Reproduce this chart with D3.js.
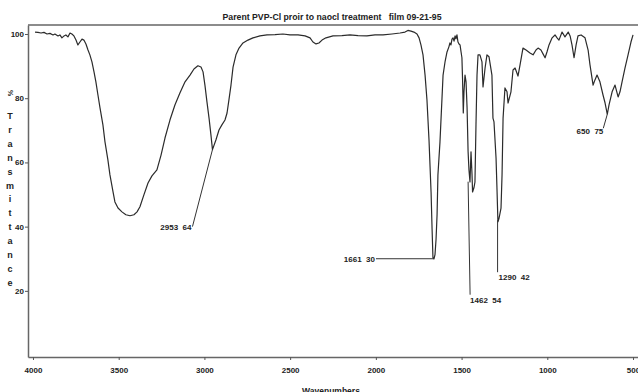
<!DOCTYPE html>
<html>
<head>
<meta charset="utf-8">
<script src="https://cdn.jsdelivr.net/npm/d3@7"></script>
<style>
  html, body { margin: 0; padding: 0; background: #fff; }
  svg { display: block; }
  text { font-family: "Liberation Sans", Arial, sans-serif; font-weight: bold; fill: #222; white-space: pre; }
</style>
</head>
<body>
<div id="chart"></div>
<script>
// IR spectrum: wavenumber (cm-1) and % transmittance
const wavenumbers = [
  3988, 3971, 3953, 3936, 3918, 3901, 3883, 3872, 3854, 3843, 3831, 3819, 3808, 3796, 3784, 3773,
  3761, 3749, 3738, 3726, 3714, 3703, 3691, 3679, 3668, 3656, 3644, 3633, 3621, 3609, 3592, 3580,
  3563, 3551, 3533, 3522, 3504, 3481, 3458, 3434, 3411, 3393, 3376, 3353, 3329, 3306, 3277, 3253,
  3230, 3201, 3172, 3143, 3113, 3084, 3061, 3038, 3020, 3008, 2997, 2985, 2973, 2962, 2953, 2933,
  2915, 2898, 2880, 2868, 2857, 2845, 2833, 2816, 2798, 2775, 2746, 2717, 2676, 2635, 2588, 2542,
  2501, 2454, 2413, 2384, 2367, 2349, 2332, 2314, 2291, 2250, 2198, 2151, 2104, 2052, 2005, 1958,
  1906, 1859, 1830, 1813, 1795, 1778, 1760, 1748, 1737, 1725, 1713, 1702, 1690, 1678, 1672, 1667,
  1661, 1655, 1649, 1643, 1638, 1626, 1608, 1596, 1585, 1574, 1568, 1562, 1556, 1550, 1544, 1538,
  1533, 1527, 1521, 1515, 1509, 1503, 1498, 1494, 1490, 1486, 1480, 1474, 1468, 1462, 1457, 1451,
  1445, 1439, 1436, 1428, 1422, 1416, 1410, 1404, 1393, 1381, 1375, 1363, 1352, 1340, 1323, 1317,
  1311, 1299, 1293, 1288, 1282, 1270, 1264, 1258, 1247, 1235, 1229, 1212, 1200, 1188, 1171, 1159,
  1142, 1124, 1101, 1083, 1066, 1054, 1037, 1025, 1013, 1002, 990, 972, 955, 943, 932, 914,
  897, 878, 867, 856, 844, 832, 821, 803, 780, 762, 751, 733, 722, 710, 693, 675,
  663, 650, 640, 622, 605, 587, 576, 564, 547, 529, 512, 500
];
const transmittance = [
  100.6, 100.5, 100.3, 100.5, 100.0, 100.2, 99.7, 100.0, 99.4, 99.7, 98.8, 99.4, 99.7, 99.1, 100.3, 100.0,
  99.4, 98.1, 96.6, 97.5, 98.4, 98.1, 96.9, 95.0, 93.5, 91.3, 88.2, 85.1, 81.0, 77.0, 71.7, 66.4,
  60.8, 56.1, 50.8, 47.7, 45.8, 44.6, 43.7, 43.4, 43.7, 44.6, 46.2, 49.9, 53.6, 55.8, 57.7, 62.3,
  67.6, 73.2, 77.9, 81.6, 85.1, 87.2, 89.1, 90.1, 89.7, 88.2, 84.1, 78.8, 73.8, 68.6, 64.0, 67.0,
  70.1, 71.7, 73.2, 75.4, 79.5, 84.1, 89.7, 93.5, 95.6, 97.2, 98.1, 98.8, 99.4, 99.7, 99.8, 100.0,
  99.7, 99.7, 99.4, 98.8, 97.5, 96.9, 97.2, 98.1, 98.8, 99.4, 99.5, 99.7, 99.5, 99.4, 99.7, 99.7,
  100.0, 100.3, 100.6, 101.1, 100.9, 100.6, 100.0, 98.8, 96.6, 93.5, 87.2, 79.5, 67.0, 50.8, 39.1, 30.3,
  30.0, 31.3, 36.0, 43.7, 56.1, 66.4, 87.2, 91.5, 94.4, 96.0, 97.2, 96.6, 98.4, 98.8, 97.8, 99.4,
  98.5, 99.7, 97.5, 96.9, 96.6, 94.4, 92.6, 85.1, 75.4, 82.0, 87.2, 85.1, 77.0, 63.3, 57.7, 53.9,
  63.3, 56.1, 50.8, 52.1, 53.9, 71.7, 87.2, 93.5, 93.5, 91.3, 83.5, 89.4, 93.5, 92.9, 87.2, 73.8,
  72.6, 61.4, 50.8, 41.5, 42.5, 45.8, 56.1, 73.8, 83.2, 82.0, 78.5, 82.0, 88.8, 89.4, 86.9, 90.4,
  95.6, 95.0, 94.1, 93.5, 95.0, 95.6, 95.0, 93.8, 92.6, 94.4, 96.6, 98.8, 99.7, 98.8, 98.1, 100.6,
  99.1, 100.6, 99.4, 96.6, 92.6, 96.6, 99.4, 99.7, 98.8, 95.0, 90.4, 84.1, 85.7, 87.2, 85.1, 81.0,
  78.5, 75.0, 77.9, 82.0, 84.1, 80.4, 82.0, 85.1, 89.4, 93.5, 97.5, 99.7
];

// labelled peaks
const peakWn = [2953, 1661, 1462, 1290, 650];
const peakT = [64, 30, 54, 42, 75];

const xTicks = [4000, 3500, 3000, 2500, 2000, 1500, 1000, 500];
const yTicks = [20, 40, 60, 80, 100];
const yLabel = 'Transmittance';
const title = 'Parent PVP-Cl proir to naocl treatment   film 09-21-95';

const W = 638, H = 392;
const svg = d3.select('#chart').append('svg').attr('width', W).attr('height', H);

const x = d3.scaleLinear().domain([4029, 471]).range([28, 638]);
const y = d3.scaleLinear().domain([-0.6, 102.8]).range([357, 25]);

// title
svg.append('text')
  .attr('x', 332).attr('y', 20)
  .attr('text-anchor', 'middle')
  .attr('textLength', 219).attr('lengthAdjust', 'spacingAndGlyphs')
  .style('font-size', '8.5px')
  .text(title);

// frame: top line
svg.append('line')
  .attr('x1', x.range()[0]).attr('x2', x.range()[1])
  .attr('y1', y.range()[1]).attr('y2', y.range()[1])
  .attr('stroke', '#666').attr('stroke-width', 1.6);

// axes
const xAxis = svg.append('g').attr('transform', `translate(0,${y.range()[0]})`)
  .call(d3.axisBottom(x).tickValues(xTicks).tickSize(3).tickSizeOuter(0).tickFormat(d3.format('d')));
const yAxis = svg.append('g').attr('transform', `translate(${x.range()[0]},0)`)
  .call(d3.axisLeft(y).tickValues(yTicks).tickSize(3).tickSizeOuter(0).tickFormat(d3.format('d')));

[xAxis, yAxis].forEach(g => {
  g.select('.domain').attr('stroke', '#666').attr('stroke-width', 1.5);
  g.selectAll('.tick line').attr('stroke', '#555');
  g.selectAll('.tick text').attr('fill', '#222')
    .style('font-family', '"Liberation Sans", Arial, sans-serif')
    .style('font-weight', 'bold').style('font-size', '8px');
});
xAxis.selectAll('.tick text').attr('dy', '0.71em').attr('y', 10);
yAxis.selectAll('.tick text').attr('x', -4);

// y label, one letter per line
const yl = svg.append('g');
yl.append('text')
  .attr('transform', 'translate(8,93) rotate(90)')
  .attr('text-anchor', 'middle')
  .style('font-size', '7px')
  .text('%');
yl.selectAll('text.letter').data(yLabel.split(''))
  .join('text').attr('class', 'letter')
  .attr('x', 10)
  .attr('y', (d, i) => 119 + i * 13.9)
  .attr('text-anchor', 'middle')
  .style('font-size', '9px')
  .text(d => d);

// x label (cut by the bottom edge, like the original)
svg.append('text')
  .attr('x', 331).attr('y', 394)
  .attr('text-anchor', 'middle')
  .style('font-size', '8.5px')
  .text('Wavenumbers');

// spectrum
const spectrum = wavenumbers.map((w, i) => ({ w, t: transmittance[i] }));
svg.append('path')
  .datum(spectrum)
  .attr('fill', 'none')
  .attr('stroke', '#2b2b2b')
  .attr('stroke-width', 1.2)
  .attr('stroke-linejoin', 'round')
  .attr('d', d3.line().x(d => x(d.w)).y(d => y(d.t)));

// peak labels with leader lines
// line: start of the leader relative to the peak; text: [dx, dy, anchor]
const leaderLayout = [
  { line: [-20, 77], text: [-21, 78, 'end'] },
  { line: [-58, 0], text: [-59, 0, 'end'] },
  { line: [2, 113], text: [2, 119, 'start'] },
  { line: [0, 52], text: [1, 57, 'start'] },
  { line: [-4, 14], text: [-4, 17, 'end'] }
];
const peaks = peakWn.map((w, i) => ({ w, t: peakT[i], label: `${w}  ${peakT[i]}`, ...leaderLayout[i] }));
const pg = svg.append('g');
pg.selectAll('line').data(peaks).join('line')
  .attr('x1', d => x(d.w) + d.line[0]).attr('y1', d => y(d.t) + d.line[1])
  .attr('x2', d => x(d.w)).attr('y2', d => y(d.t))
  .attr('stroke', '#333').attr('stroke-width', 1);
pg.selectAll('text').data(peaks).join('text')
  .attr('x', d => x(d.w) + d.text[0]).attr('y', d => y(d.t) + d.text[1])
  .attr('dy', '0.35em')
  .attr('text-anchor', d => d.text[2])
  .style('font-size', '8px')
  .text(d => d.label);
</script>
</body>
</html>
